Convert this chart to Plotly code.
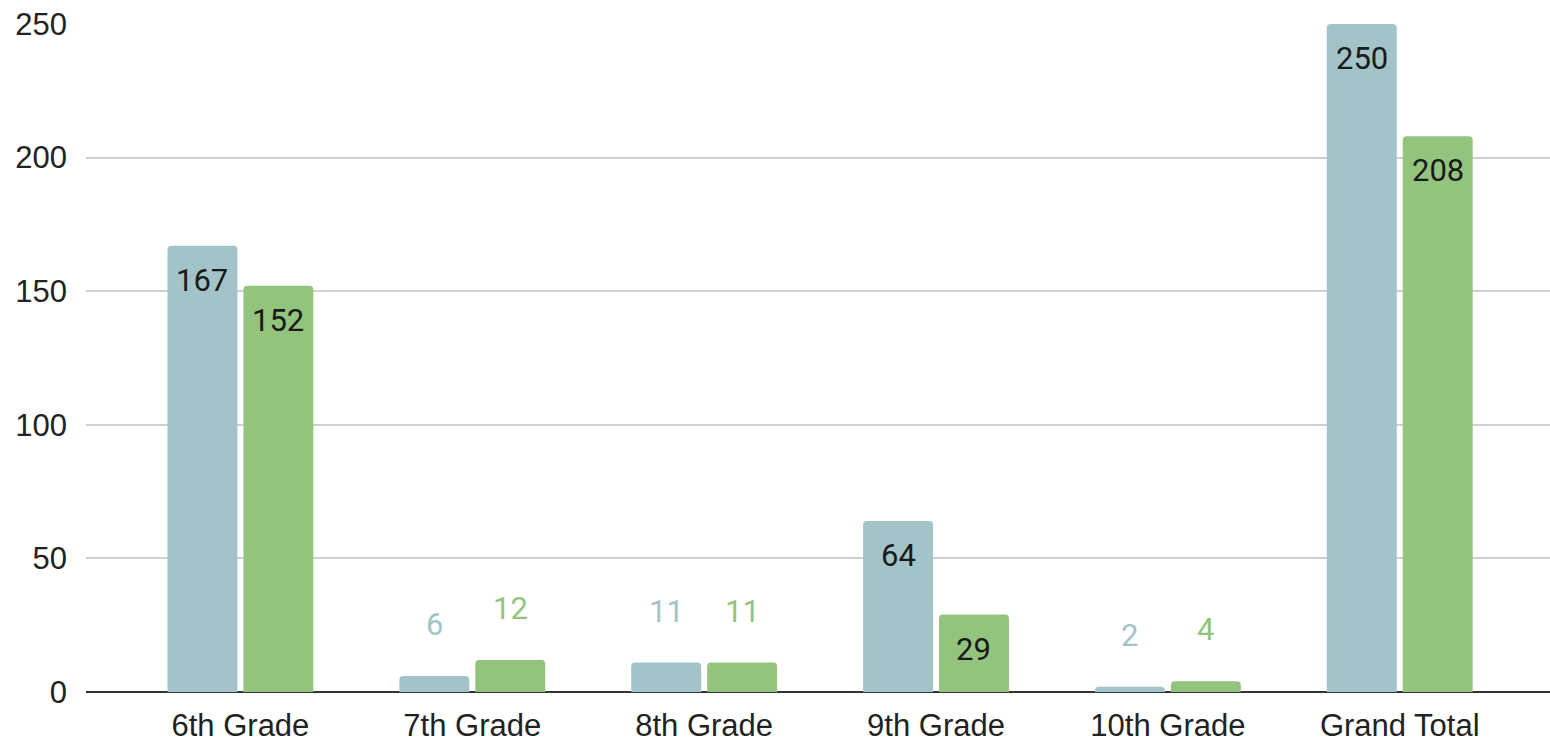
import plotly.graph_objects as go

categories = ["6th Grade", "7th Grade", "8th Grade", "9th Grade", "10th Grade", "Grand Total"]
series_a = [167, 6, 11, 64, 2, 250]
series_b = [152, 12, 11, 29, 4, 208]
y_ticks = [0, 50, 100, 150, 200, 250]

color_a = "#A2C4C9"
color_b = "#93C47D"
BARGAP = 0.345
GROUPGAP = 0.079
INSIDE_MIN = 20

fig = go.Figure()
for vals, col in ((series_a, color_a), (series_b, color_b)):
    fig.add_trace(go.Bar(x=categories, y=vals, marker=dict(color=col, line=dict(width=0)),
                         hoverinfo="skip"))

# data labels
half = (1 - BARGAP) / 4
for k, (vals, col) in enumerate(((series_a, color_a), (series_b, color_b))):
    off = -half if k == 0 else half
    for i, v in enumerate(vals):
        inside = v >= INSIDE_MIN
        fig.add_annotation(
            x=i + off, y=v, xref="x", yref="y", text=str(v), showarrow=False,
            yanchor="top" if inside else "bottom",
            yshift=-14 if inside else 31,
            font=dict(family="Roboto", size=31, color="#1a1a1a" if inside else col),
        )

fig.update_layout(
    width=1550, height=743,
    margin=dict(l=86, r=0, t=24, b=51, autoexpand=False),
    paper_bgcolor="white", plot_bgcolor="white",
    barmode="group", bargap=BARGAP, bargroupgap=GROUPGAP,
    barcornerradius=4,
    showlegend=False,
    font=dict(family="Liberation Sans, Arial", size=31, color="#222222"),
)
fig.update_xaxes(
    range=[-0.666, 5.648], showgrid=False, showline=False, zeroline=False,
    ticks="", ticklabelstandoff=12, automargin=False,
    tickfont=dict(family="Liberation Sans, Arial", size=31, color="#222222"),
)
fig.update_yaxes(
    range=[0, 250], tickvals=y_ticks, showgrid=True, gridcolor="#cfcfcf", gridwidth=2,
    zeroline=True, zerolinecolor="#333333", zerolinewidth=2, showline=False,
    ticks="", ticklabelstandoff=18, automargin=False,
    tickfont=dict(family="Liberation Sans, Arial", size=31, color="#222222"),
)

fig.write_html("out.html", config={"displayModeBar": False},
               post_script="document.body.style.margin='0';document.body.style.overflow='hidden';")
